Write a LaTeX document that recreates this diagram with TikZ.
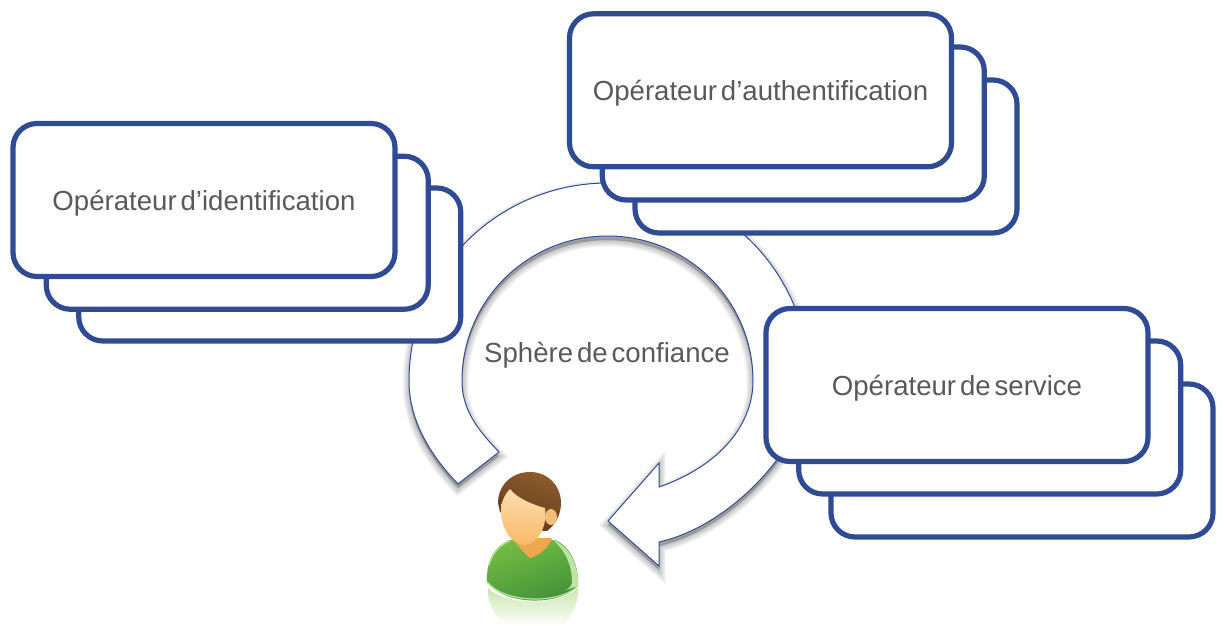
\documentclass[tikz,border=0pt]{standalone}
\usepackage{fontspec}
\setmainfont[Ligatures=NoCommon]{Liberation Sans}
\definecolor{navy}{HTML}{2F4B93}
\definecolor{labelgray}{HTML}{595959}
\definecolor{hairA}{HTML}{8E5B2C}
\definecolor{hairB}{HTML}{5E3A1B}
\definecolor{faceA}{HTML}{FCDDB0}
\definecolor{faceB}{HTML}{F8BA68}
\definecolor{neckC}{HTML}{F0A64E}
\definecolor{bodyA}{HTML}{74BC43}
\definecolor{bodyB}{HTML}{3F9039}
\definecolor{rimC}{HTML}{BFE3A6}
\definecolor{reflC}{HTML}{C9E6AC}
\newcommand{\opfont}{\fontsize{27.6}{30}\selectfont\spaceskip 3.9pt\relax}
\tikzset{
  x=1pt,y=-1pt,
  opbox/.style={draw=navy,line width=5.2pt,fill=white,rounded corners=24pt,
    minimum width=382pt,minimum height=153pt,inner sep=0pt,text=labelgray,
    font=\opfont,text height=25pt,text depth=5pt},
  bigarrow/.style={draw=navy,line width=1pt,fill=white,line join=miter},
  shadowlayer/.style={draw=black,fill=black,opacity=.04,yshift=-4pt},
  lbl/.style={text=labelgray,inner sep=0pt,font=\opfont}
}
\newcommand{\arrowshape}{(458,484) .. controls (430,455) and (409,420) .. (409,381)
  .. controls (409,271) and (498,183) .. (608,183)
  .. controls (720,183) and (809,271) .. (809,381)
  .. controls (809,440) and (735,525) .. (659,542)
  -- (659,566) -- (608,521) -- (659,463) -- (659,487)
  .. controls (722,465) and (753,423) .. (753,381)
  .. controls (753,301) and (688,236) .. (607.5,236)
  .. controls (527,236) and (462,301) .. (462,381)
  .. controls (462,410) and (478,430) .. (499,452) -- cycle}
\begin{document}
\begin{tikzpicture}
\useasboundingbox (0,0) rectangle (1224,626);
% shadow of the arrow
\foreach \w in {1,3,5,7,9,11,13}{
  \path[shadowlayer,line width=\w pt] \arrowshape;
}
\path[bigarrow] \arrowshape;
% person: reflection
\shade[top color=reflC,bottom color=white] (488,588) .. controls (505,606) and (560,606) .. (578,588) .. controls (579,606) and (568,626) .. (555,626) -- (510,626) .. controls (498,622) and (487,606) .. (488,588) -- cycle;
% body
\shade[top color=bodyA,bottom color=bodyB,shading angle=20]
  (487,582) .. controls (486,560) and (495,546) .. (510,540) -- (555,540) .. controls (570,546) and (579,565) .. (578,586)
  .. controls (560,606) and (505,606) .. (487,582) -- cycle;
\draw[rimC,line width=1.2pt] (487,582) .. controls (505,604) and (560,604) .. (578,586);
\draw[rimC,line width=.8pt] (489,566) .. controls (492,553) and (500,545) .. (510,541);
\fill[rimC] (553,540) .. controls (569,546) and (579,565) .. (578,586) -- (566,590) .. controls (570,588) and (572,585) .. (572,582) .. controls (572,565) and (565,550) .. (553,540) -- cycle;
% neck
\fill[neckC] (513,538) -- (552,538) .. controls (549,548) and (538,556) .. (530,558) .. controls (524,553) and (518,546) .. (513,538) -- cycle;
% hair
\shade[top color=hairA,bottom color=hairB,shading angle=-20] (498,503) .. controls (498,485) and (512,472) .. (530,472)
  .. controls (548,472) and (561,486) .. (561,503) .. controls (561,515) and (555,525) .. (547,531) -- (530,530) -- (500,512) -- cycle;
% ear
\fill[neckC!60!faceA] (551,517) ellipse (6pt and 8pt);
% face
\shade[top color=faceA,bottom color=faceB] (501,510) .. controls (501,502) and (505,494) .. (510,489)
  .. controls (516,497) and (530,504) .. (545,508)
  .. controls (548,528) and (536,545) .. (525,545) .. controls (511,545) and (501,528) .. (501,510) -- cycle;
% boxes
\node[opbox] (id3) at (269.75,264.5) {};
\node[opbox] (id2) at (237.25,232.75) {};
\node[opbox] (id1) at (204,200) {Opérateur d’identification};
\node[opbox] (au3) at (826,156.5) {};
\node[opbox] (au2) at (793.3,123.5) {};
\node[opbox] (au1) at (760.5,90.3) {Opérateur d’authentification};
\node[opbox] (se3) at (1022,460.5) {};
\node[opbox] (se2) at (989.7,417.5) {};
\node[opbox] (se1) at (957,385) {Opérateur de service};
\node[lbl,anchor=base] (sphere) at (607,362) {Sphère de confiance};
\end{tikzpicture}
\end{document}
